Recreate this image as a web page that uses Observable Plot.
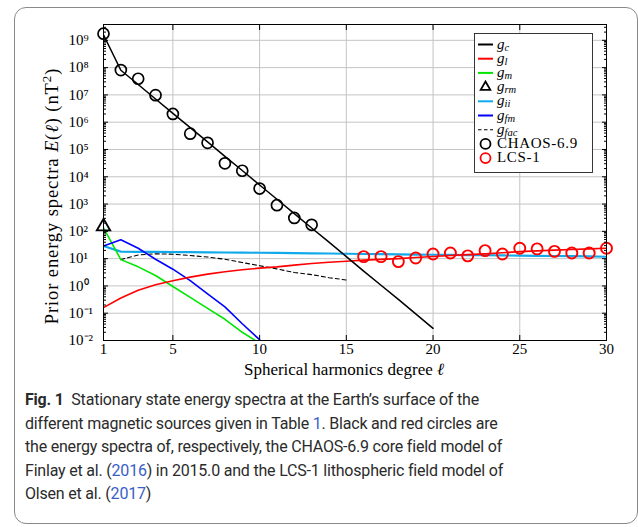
<!DOCTYPE html>
<html><head><meta charset="utf-8">
<script src="https://cdn.jsdelivr.net/npm/d3@7"></script>
<script src="https://cdn.jsdelivr.net/npm/@observablehq/plot@0.6"></script>
<style>
body{margin:0;background:#fff;}
#wrap{position:relative;width:638px;height:527px;overflow:hidden;background:#fff;}
#border{position:absolute;left:14px;top:7px;width:624px;height:517px;border:1.5px solid #8a8a8a;border-radius:12px;box-sizing:border-box;}
#chart{position:absolute;left:0;top:0;}
#caption{position:absolute;left:25px;top:388px;font-family:"Roboto","Open Sans",sans-serif;font-size:16px;letter-spacing:-0.2px;line-height:23.5px;color:#2b2b2b;white-space:nowrap;}
#caption .lk{color:#3a5ec8;}
</style></head>
<body>
<div id="wrap">
  <div id="border"></div>
  <div id="chart"></div>
  <div id="caption">
    <b>Fig. 1</b>&nbsp; Stationary state energy spectra at the Earth’s surface of the<br>
    different magnetic sources given in Table <span class="lk">1</span>. Black and red circles are<br>
    the energy spectra of, respectively, the CHAOS-6.9 core field model of<br>
    Finlay et al. (<span class="lk">2016</span>) in 2015.0 and the LCS-1 lithospheric field model of<br>
    Olsen et al. (<span class="lk">2017</span>)
  </div>
</div>
<script>
// ---- data ----
const degrees = [1,2,3,4,5,6,7,8,9,10,11,12,13,14,15,16,17,18,19,20,21,22,23,24,25,26,27,28,29,30];
// g_c : core field prior, degrees 1..20
const gc = [1.6e9, 8.0e7, 2.4e7, 7.1e6, 2.1e6, 6.3e5, 1.9e5, 5.6e4, 1.7e4, 5.0e3, 1.5e3, 447, 133, 40, 11.9, 3.5, 1.06, 0.32, 0.094, 0.028];
// g_l : lithospheric field prior, degrees 1..30
const gl = [0.16, 0.36, 0.7, 1.1, 1.55, 2.1, 2.7, 3.3, 3.9, 4.5, 5.0, 5.8, 6.6, 7.4, 8.0, 8.8, 9.4, 10.0, 11.0, 12.0, 13.0, 14.0, 15.0, 16.5, 18.0, 19.2, 20.5, 21.5, 22.8, 24.0];
// g_m : magnetospheric, degrees 1..10
const gm = [135, 9.2, 5.0, 2.4, 0.95, 0.38, 0.15, 0.06, 0.02, 0.008];
// g_rm : degree 1
const grm = [150];
// g_ii : degrees 1..30
const gii = [29, 18, 17.8, 17.6, 17.4, 17.2, 17.0, 16.8, 16.6, 16.4, 16.2, 16.0, 15.7, 15.4, 15.1, 14.8, 14.6, 14.4, 14.1, 13.9, 13.7, 13.5, 13.3, 13.1, 12.9, 12.7, 12.5, 12.3, 12.0, 11.7];
// g_fm : degrees 1..10
const gfm = [29, 49, 24, 9.5, 4.1, 1.56, 0.51, 0.17, 0.041, 0.0107];
// g_fac : degrees 2..15
const gfacDegrees = [2,3,4,5,6,7,8,9,10,11,12,13,14,15];
const gfac = [9.2, 13.6, 15, 14.5, 13, 11.5, 9.5, 7.2, 5.5, 4.2, 3.1, 2.6, 2.0, 1.65];
// CHAOS-6.9 circles, degrees 1..13
const chaos = [1.75e9, 8.1e7, 3.9e7, 9.8e6, 2.0e6, 3.8e5, 1.75e5, 3.1e4, 1.66e4, 3.7e3, 910, 310, 174];
// LCS-1 circles, degrees 16..30
const lcsDegrees = [16,17,18,19,20,21,22,23,24,25,26,27,28,29,30];
const lcs = [11.8, 11.8, 7.8, 10.6, 14.8, 16, 12.6, 19.6, 14.8, 24, 22.7, 18.5, 16, 16, 24];
// ticks
const xTickLabels = [1, 5, 10, 15, 20, 25, 30];
const xGrid = [5, 10, 15, 20, 25];
const yExponents = [-2,-1,0,1,2,3,4,5,6,7,8,9];

// ---- helpers ----
const pts = (xs, vs) => vs.map((v, i) => ({l: xs[i], v}));
const decades = yExponents.map(e => Math.pow(10, e));
const minors = [];
yExponents.forEach(e => { for (let m = 2; m <= 9; m++) { const v = m * Math.pow(10, e); if (v < 3.8e9) minors.push(v); } });
const supMap = {"-":"⁻","0":"⁰","1":"¹","2":"²","3":"³","4":"⁴","5":"⁵","6":"⁶","7":"⁷","8":"⁸","9":"⁹"};
const supFmt = d => "10" + String(Math.round(Math.log10(d))).split("").map(c => supMap[c]).join("");

const colors = {gc:"#000000", gl:"#ff0000", gm:"#00e600", grm:"#000000", gii:"#12a9ea", gfm:"#0000ff", gfac:"#000000"};

const chart = Plot.plot({
  width: 638, height: 385,
  marginLeft: 103, marginRight: 32, marginTop: 24, marginBottom: 45,
  x: {domain: [1, 30], label: null},
  y: {type: "log", domain: [1e-2, 3.8e9], label: null},
  style: {fontFamily: '"Liberation Serif", serif', fontSize: "15px", color: "#000", background: "transparent", overflow: "visible"},
  marks: [
    Plot.gridX(xGrid, {stroke: "#c4c4c4", strokeOpacity: 1}),
    Plot.gridY(decades.slice(1), {stroke: "#c4c4c4", strokeOpacity: 1}),
    Plot.line(pts(gfacDegrees, gfac), {x: "l", y: "v", stroke: colors.gfac, strokeWidth: 1.1, strokeDasharray: "4,3", clip: true}),
    Plot.line(pts(degrees, gii), {x: "l", y: "v", stroke: colors.gii, strokeWidth: 2.2, clip: true}),
    Plot.line(pts(degrees, gm), {x: "l", y: "v", stroke: colors.gm, strokeWidth: 1.6, clip: true}),
    Plot.line(pts(degrees, gfm), {x: "l", y: "v", stroke: colors.gfm, strokeWidth: 1.6, clip: true}),
    Plot.line(pts(degrees, gl), {x: "l", y: "v", stroke: colors.gl, strokeWidth: 1.6, clip: true}),
    Plot.line(pts(degrees, gc), {x: "l", y: "v", stroke: colors.gc, strokeWidth: 1.5, clip: true}),
    Plot.dot(pts(degrees, chaos), {x: "l", y: "v", r: 5.5, stroke: "#000", strokeWidth: 1.7, fill: "none"}),
    Plot.dot(pts(lcsDegrees, lcs), {x: "l", y: "v", r: 5.5, stroke: "#ff0000", strokeWidth: 1.9, fill: "none"}),
    Plot.dot(pts(degrees, grm), {x: "l", y: "v", r: 5, symbol: "triangle", stroke: "#000", strokeWidth: 1.8, fill: "none"}),
    Plot.frame({stroke: "#000", strokeWidth: 1}),
    // inward tick marks
    Plot.axisY(decades, {anchor: "left", tickSize: -5, tickFormat: () => ""}),
    Plot.axisY(minors, {anchor: "left", tickSize: -3, tickFormat: () => ""}),
    Plot.axisY(decades, {anchor: "right", tickSize: -5, tickFormat: () => ""}),
    Plot.axisY(minors, {anchor: "right", tickSize: -3, tickFormat: () => ""}),
    Plot.axisX(xGrid, {anchor: "bottom", tickSize: -5, tickFormat: () => ""}),
    Plot.axisX(xGrid, {anchor: "top", tickSize: -5, tickFormat: () => ""}),
    // labels
    Plot.axisY(decades, {anchor: "left", tickSize: 0, tickPadding: 0, dx: -35, textAnchor: "start", tickFormat: supFmt, fontSize: 15}),
    Plot.axisX(xTickLabels, {anchor: "bottom", tickSize: 0, tickPadding: 3, tickFormat: d => String(d), fontSize: 15})
  ]
});
document.getElementById("chart").appendChild(chart);

// ---- axis titles and legend (text with italic/sub parts) ----
const svg = d3.select(chart);
const serif = '"Liberation Serif", serif';
const xt = svg.append("text").attr("x", 344).attr("y", 375).attr("text-anchor", "middle")
  .attr("font-family", serif).attr("font-size", 17).attr("fill", "#000");
xt.append("tspan").text("Spherical harmonics degree ");
xt.append("tspan").attr("font-style", "italic").text("ℓ");

const yt = svg.append("text").attr("transform", "translate(58,196) rotate(-90)").attr("text-anchor", "middle")
  .attr("font-family", serif).attr("font-size", 18.5).attr("letter-spacing", 0.9).attr("fill", "#000");
yt.append("tspan").text("Prior energy spectra ");
yt.append("tspan").attr("font-style", "italic").text("E");
yt.append("tspan").text("(");
yt.append("tspan").attr("font-style", "italic").text("ℓ");
yt.append("tspan").text(") (nT");
yt.append("tspan").attr("dy", -7).attr("font-size", 13).text("2");
yt.append("tspan").attr("dy", 7).text(")");

// legend
const legendItems = [
  {sub: "c", kind: "line", color: colors.gc},
  {sub: "l", kind: "line", color: colors.gl},
  {sub: "m", kind: "line", color: colors.gm},
  {sub: "rm", kind: "tri", color: colors.grm},
  {sub: "ii", kind: "line", color: colors.gii},
  {sub: "fm", kind: "line", color: colors.gfm},
  {sub: "fac", kind: "dash", color: colors.gfac},
  {name: "CHAOS-6.9", kind: "circ", color: "#000"},
  {name: "LCS-1", kind: "circ", color: "#ff0000"}
];
const lg = svg.append("g");
lg.append("rect").attr("x", 474.5).attr("y", 33.5).attr("width", 118).attr("height", 139)
  .attr("fill", "#fff").attr("stroke", "#222").attr("stroke-width", 0.9);
legendItems.forEach((it, i) => {
  const y = 44.5 + i * 14.2;
  if (it.kind === "line" || it.kind === "dash") {
    lg.append("line").attr("x1", 478).attr("x2", 493).attr("y1", y).attr("y2", y)
      .attr("stroke", it.color).attr("stroke-width", it.kind === "dash" ? 1.1 : 2)
      .attr("stroke-dasharray", it.kind === "dash" ? "3.5,2.5" : null);
  } else if (it.kind === "tri") {
    lg.append("path").attr("d", d3.symbol(d3.symbolTriangle, 40)()).attr("transform", `translate(485.5,${y})`)
      .attr("fill", "none").attr("stroke", "#000").attr("stroke-width", 1.8);
  } else {
    lg.append("circle").attr("cx", 485.5).attr("cy", y).attr("r", 5).attr("fill", "none")
      .attr("stroke", it.color).attr("stroke-width", 1.8);
  }
  const t = lg.append("text").attr("x", 497).attr("y", y + 4).attr("text-anchor", "start")
    .attr("font-family", serif).attr("font-size", 15).attr("fill", "#000");
  if (it.sub) {
    t.append("tspan").attr("font-style", "italic").text("g");
    t.append("tspan").attr("font-style", "italic").attr("font-size", 10.5).attr("dy", 2).text(it.sub);
  } else {
    t.attr("letter-spacing", 0.7).text(it.name);
  }
});
</script>
</body></html>
